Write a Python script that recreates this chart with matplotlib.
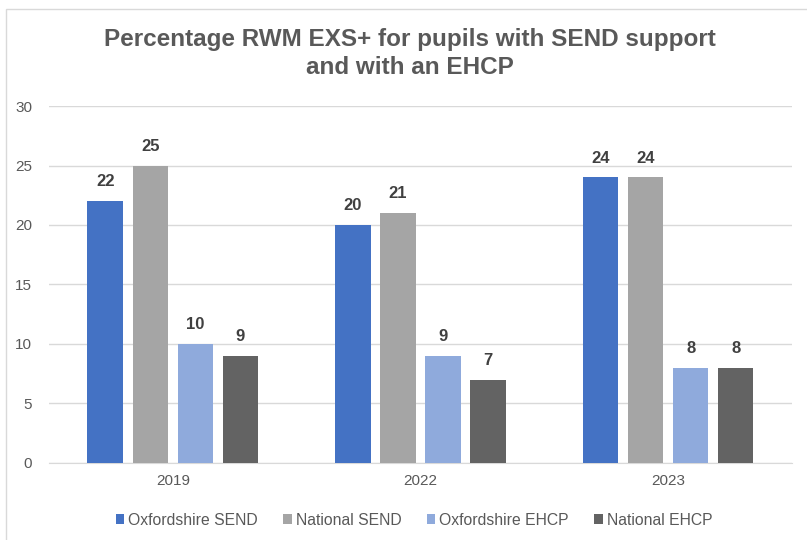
import matplotlib.pyplot as plt
import numpy as np
from matplotlib.patches import Rectangle

plt.rcParams['font.family'] = ['Liberation Sans', 'DejaVu Sans']

years = ['2019', '2022', '2023']
series_names = ['Oxfordshire SEND', 'National SEND', 'Oxfordshire EHCP', 'National EHCP']
oxon_send = [22, 20, 24]
national_send = [25, 21, 24]
oxon_ehcp = [10, 9, 8]
national_ehcp = [9, 7, 8]
colors = ['#4472C4', '#A5A5A5', '#8FAADC', '#636363']

fig = plt.figure(figsize=(8.07, 5.4), dpi=100)
ax = fig.add_axes([0.0607, 0.1426, 0.9207, 0.6611])

# light chart border (top and left visible in the reference)
fig.patches.append(Rectangle((6 / 807, -0.1), 1.2, 1 - 9 / 540 + 0.1,
                             transform=fig.transFigure, fill=False,
                             edgecolor='#D9D9D9', linewidth=1))

x = np.arange(len(years))
width = 0.143
step = 0.182
all_series = [oxon_send, national_send, oxon_ehcp, national_ehcp]
for i, (name, vals) in enumerate(zip(series_names, all_series)):
    pos = x + (i - 1.5) * step
    bars = ax.bar(pos, vals, width=width, color=colors[i], label=name, zorder=3)
    ax.bar_label(bars, padding=8.5, fontsize=12, fontweight='bold', color='#404040')

ax.set_xlim(-0.5, 2.5)
ax.set_ylim(0, 30)
ax.set_yticks(range(0, 31, 5))
ax.set_xticks(x)
ax.set_xticklabels(years)
ax.yaxis.grid(True, color='#D9D9D9', linewidth=1, zorder=0)
for s in ['top', 'right', 'left']:
    ax.spines[s].set_visible(False)
ax.spines['bottom'].set_color('#D9D9D9')
ax.tick_params(axis='both', length=0, labelsize=11, colors='#595959')
ax.tick_params(axis='y', pad=12)
ax.tick_params(axis='x', pad=8)

fig.text(0.508, 0.901, 'Percentage RWM EXS+ for pupils with SEND support\nand with an EHCP',
         ha='center', va='center', fontsize=17.5, fontweight='bold', color='#595959',
         linespacing=1.27)

fig.legend(loc='center', bbox_to_anchor=(0.513, 0.037), ncol=4, frameon=False,
           fontsize=11.3, labelcolor='#595959', handlelength=0.55, handleheight=0.55,
           handletextpad=0.25, columnspacing=1.6)

fig.savefig('out.png', dpi=100)
